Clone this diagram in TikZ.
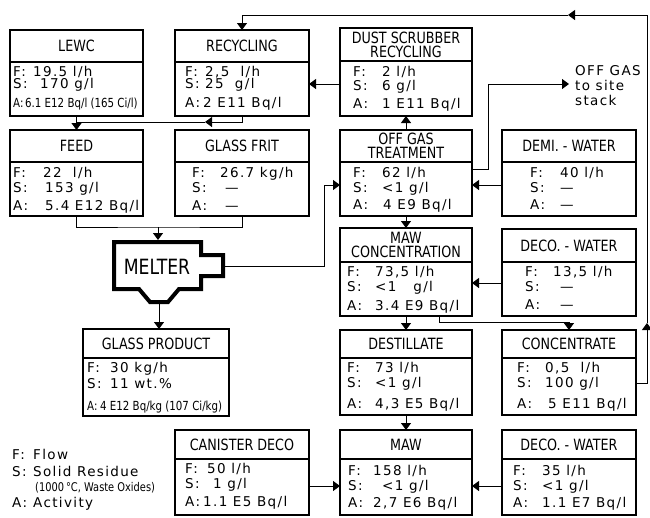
\documentclass[tikz,border=0pt]{standalone}
\usepackage{fontspec}
\setmainfont{DejaVu Sans}[LetterSpace=10]
\newfontfamily\hfont{DejaVu Sans}[FakeStretch=0.82]
\usetikzlibrary{arrows.meta}
\tikzset{
  pbox/.style={draw, line width=1.8pt, inner sep=0pt, outer sep=0pt},
  divline/.style={line width=1.6pt},
  head/.style={font=\hfont\fontsize{15.5}{14}\selectfont, align=center, inner sep=0pt},
  btxt/.style={font=\fontsize{13.5}{15}\selectfont, anchor=base west, inner sep=0pt},
  stxt/.style={font=\hfont\fontsize{12.5}{14}\selectfont, anchor=base west, inner sep=0pt},
  conn/.style={line width=1pt},
  arr/.style={-{Triangle[length=7pt,width=10pt]}},
  melt/.style={line width=4pt, line join=miter},
}
\newcommand{\mybox}[7]{%
  \node[pbox, minimum width={#4-#2}, minimum height={#5-#3}, anchor=north west] (#1) at (#2,#3) {};
  \draw[divline] (#2,#6) -- (#4,#6);
  \node[head] (#1-h) at ({(#2+#4)/2},{(#3+#6)/2}) {#7};
}
\newcommand{\myline}[7]{%
  \node[btxt] (#1-#2l) at (#3,#5) {#6};
  \node[btxt] (#1-#2v) at (#4,#5) {#7};
}
\newcommand{\mysline}[7]{%
  \node[stxt] (#1-#2l) at (#3,#5) {#6};
  \node[stxt] (#1-#2v) at (#4,#5) {#7};
}
\begin{document}
\begin{tikzpicture}[x=1pt,y=-1pt]
\useasboundingbox (0,0) rectangle (650,517);

% ---------- row 1
\mybox{lewc}{10}{30}{143}{116}{62}{LEWC}
\myline{lewc}{f}{13}{33}{76}{F:}{19.5 l/h}
\myline{lewc}{s}{13}{40}{88}{S:}{170 g/l}
\mysline{lewc}{a}{13}{25}{107}{A:}{6.1 E12 Bq/l (165 Ci/l)}

\mybox{recycling}{175}{30}{309}{116}{62}{RECYCLING}
\myline{recycling}{f}{185}{205}{76}{F:}{2,5~~l/h}
\myline{recycling}{s}{185}{205}{88}{S:}{25~~g/l}
\myline{recycling}{a}{185}{203}{107}{A:}{2 E11 Bq/l}

\mybox{dust}{340}{28}{472}{116}{61}{DUST SCRUBBER\\RECYCLING}
\myline{dust}{f}{353}{382}{76}{F:}{2 l/h}
\myline{dust}{s}{353}{382}{90}{S:}{6 g/l}
\myline{dust}{a}{353}{382}{108}{A:}{1 E11 Bq/l}

% ---------- row 2
\mybox{feed}{10}{130}{143}{216}{162}{FEED}
\myline{feed}{f}{13}{43}{177}{F:}{22~~l/h}
\myline{feed}{s}{13}{45}{192}{S:}{153 g/l}
\myline{feed}{a}{13}{45}{210}{A:}{5.4 E12 Bq/l}

\mybox{frit}{175}{130}{309}{216}{162}{GLASS FRIT}
\myline{frit}{f}{192}{220}{177}{F:}{26.7 kg/h}
\myline{frit}{s}{192}{225}{192}{S:}{—}
\myline{frit}{a}{192}{225}{210}{A:}{—}

\mybox{offgas}{340}{130}{472}{216}{162}{OFF GAS\\TREATMENT}
\myline{offgas}{f}{353}{382}{177}{F:}{62 l/h}
\myline{offgas}{s}{353}{382}{192}{S:}{<1 g/l}
\myline{offgas}{a}{353}{383}{209}{A:}{4 E9 Bq/l}

\mybox{demi}{502}{130}{636}{216}{162}{DEMI. - WATER}
\myline{demi}{f}{530}{560}{177}{F:}{40 l/h}
\myline{demi}{s}{530}{560}{192}{S:}{—}
\myline{demi}{a}{530}{560}{209}{A:}{—}

% ---------- row 3
\mybox{mawconc}{340}{228}{472}{316}{262}{MAW\\CONCENTRATION}
\myline{mawconc}{f}{347}{375}{276}{F:}{73,5 l/h}
\myline{mawconc}{s}{347}{375}{291}{S:}{<1~~~g/l}
\myline{mawconc}{a}{347}{375}{310}{A:}{3.4 E9 Bq/l}

\mybox{decoa}{502}{229}{636}{316}{262}{DECO. - WATER}
\myline{decoa}{f}{525}{553}{276}{F:}{13,5 l/h}
\myline{decoa}{s}{525}{560}{291}{S:}{—}
\myline{decoa}{a}{525}{560}{309}{A:}{—}

% ---------- row 4
\mybox{glassprod}{83}{329}{229}{416}{358}{GLASS PRODUCT}
\myline{glassprod}{f}{87}{110}{372}{F:}{30 kg/h}
\myline{glassprod}{s}{87}{110}{388}{S:}{11 wt.\%}
\mysline{glassprod}{a}{87}{100}{410}{A:}{4 E12 Bq/kg (107 Ci/kg)}

\mybox{dest}{340}{330}{472}{415}{358}{DESTILLATE}
\myline{dest}{f}{347}{375}{372}{F:}{73 l/h}
\myline{dest}{s}{347}{375}{387}{S:}{<1 g/l}
\myline{dest}{a}{347}{375}{408}{A:}{4,3 E5 Bq/l}

\mybox{conc}{502}{330}{636}{415}{358}{CONCENTRATE}
\myline{conc}{f}{517}{545}{372}{F:}{0,5~~l/h}
\myline{conc}{s}{517}{545}{387}{S:}{100 g/l}
\myline{conc}{a}{517}{548}{408}{A:}{5 E11 Bq/l}

% ---------- row 5
\mybox{canister}{175}{430}{309}{515}{459}{CANISTER DECO}
\myline{canister}{f}{185}{207}{473}{F:}{50 l/h}
\myline{canister}{s}{185}{213}{488}{S:}{1 g/l}
\myline{canister}{a}{185}{203}{506}{A:}{1.1 E5 Bq/l}

\mybox{maw}{340}{430}{472}{515}{459}{MAW}
\myline{maw}{f}{348}{373}{475}{F:}{158 l/h}
\myline{maw}{s}{348}{382}{490}{S:}{<1 g/l}
\myline{maw}{a}{348}{373}{507}{A:}{2,7 E6 Bq/l}

\mybox{decob}{502}{430}{636}{515}{459}{DECO. - WATER}
\myline{decob}{f}{513}{542}{475}{F:}{35 l/h}
\myline{decob}{s}{513}{542}{490}{S:}{<1 g/l}
\myline{decob}{a}{513}{542}{507}{A:}{1.1 E7 Bq/l}

% ---------- melter
\draw[melt] (114,242) -- (201,242) -- (201,255) -- (223,255) -- (223,276) -- (201,276)
  -- (201,289) -- (179,289) -- (168,302) -- (150,302) -- (139,289) -- (114,289) -- cycle;
\node[font=\hfont\fontsize{21}{21}\selectfont, inner sep=0pt] (melter) at (157,267) {MELTER};
\coordinate (mtop) at (158,240);
\coordinate (mbot) at (159,304);
\coordinate (mnoz) at (225,266);

% ---------- off gas text
\node[btxt] (stack1) at (575,75) {OFF GAS};
\node[btxt] (stack2) at (575,90) {to site};
\node[btxt] (stack3) at (575,105) {stack};

% ---------- legend
\node[btxt] (lgfl) at (12,459) {F:};
\node[btxt] (lgfv) at (33,459) {Flow};
\node[btxt] (lgsl) at (12,476) {S:};
\node[btxt] (lgsv) at (33,476) {Solid Residue};
\node[font=\hfont\fontsize{12}{14}\selectfont, anchor=base west, inner sep=0pt] (lgsn) at (35,491) {(1000\,°C, Waste Oxides)};
\node[btxt] (lgal) at (12,507) {A:};
\node[btxt] (lgav) at (33,507) {Activity};

% ---------- helper coordinates
\coordinate (y84) at (0,84);
\coordinate (y122) at (0,122);
\coordinate (y169) at (0,169);
\coordinate (y185) at (0,185);
\coordinate (y283) at (0,283);
\coordinate (y322) at (0,322);
\coordinate (y383) at (0,383);
\coordinate (y486) at (0,486);
\coordinate (xr) at (647,0);
\coordinate (x488) at (488,0);
\coordinate (x324) at (324,0);
\coordinate (x439) at (439,0);
\coordinate (rup) at (647,323);
\coordinate (rcorner) at (647,15);
\coordinate (topar) at (568,15);
\coordinate (recar) at (205,122);
\coordinate (jf) at (158,227);
\coordinate (stackin) at (569,84);

% ---------- connectors
\draw[conn,arr] (conc.east |- y383) -- (xr |- y383) -- (rup);
\draw[conn,arr] (rup) -- (rcorner) -- (topar);
\draw[conn,arr] (topar) -| (recycling.north);
\draw[conn,arr] (recycling.south) |- (recar);
\draw[conn] (recar) -- (lewc.south |- y122);
\draw[conn,arr] (lewc.south) -- (feed.north);
\draw[conn,arr] (dust.west |- y84) -- (recycling.east |- y84);
\draw[conn,arr] (offgas.north) -- (dust.south);
\draw[conn,arr] (offgas.east |- y169) -- (x488 |- y169) -- (x488 |- y84) -- (stackin);
\draw[conn,arr] (demi.west |- y185) -- (offgas.east |- y185);
\draw[conn] (feed.south) |- (jf) -| (frit.south);
\draw[conn,arr] (jf) -- (mtop);
\draw[conn,arr] (mbot) -- (mbot |- glassprod.north);
\draw[conn,arr] (mnoz) -- (x324 |- mnoz) -- (x324 |- y185) -- (offgas.west |- y185);
\draw[conn,arr] (offgas.south) -- (mawconc.north);
\draw[conn,arr] (decoa.west |- y283) -- (mawconc.east |- y283);
\draw[conn,arr] (mawconc.south) -- (dest.north);
\draw[conn,arr] (x439 |- mawconc.south) -- (x439 |- y322) -| (conc.north);
\draw[conn,arr] (dest.south) -- (maw.north);
\draw[conn,arr] (canister.east |- y486) -- (maw.west |- y486);
\draw[conn,arr] (decob.west |- y486) -- (maw.east |- y486);
\end{tikzpicture}
\end{document}
